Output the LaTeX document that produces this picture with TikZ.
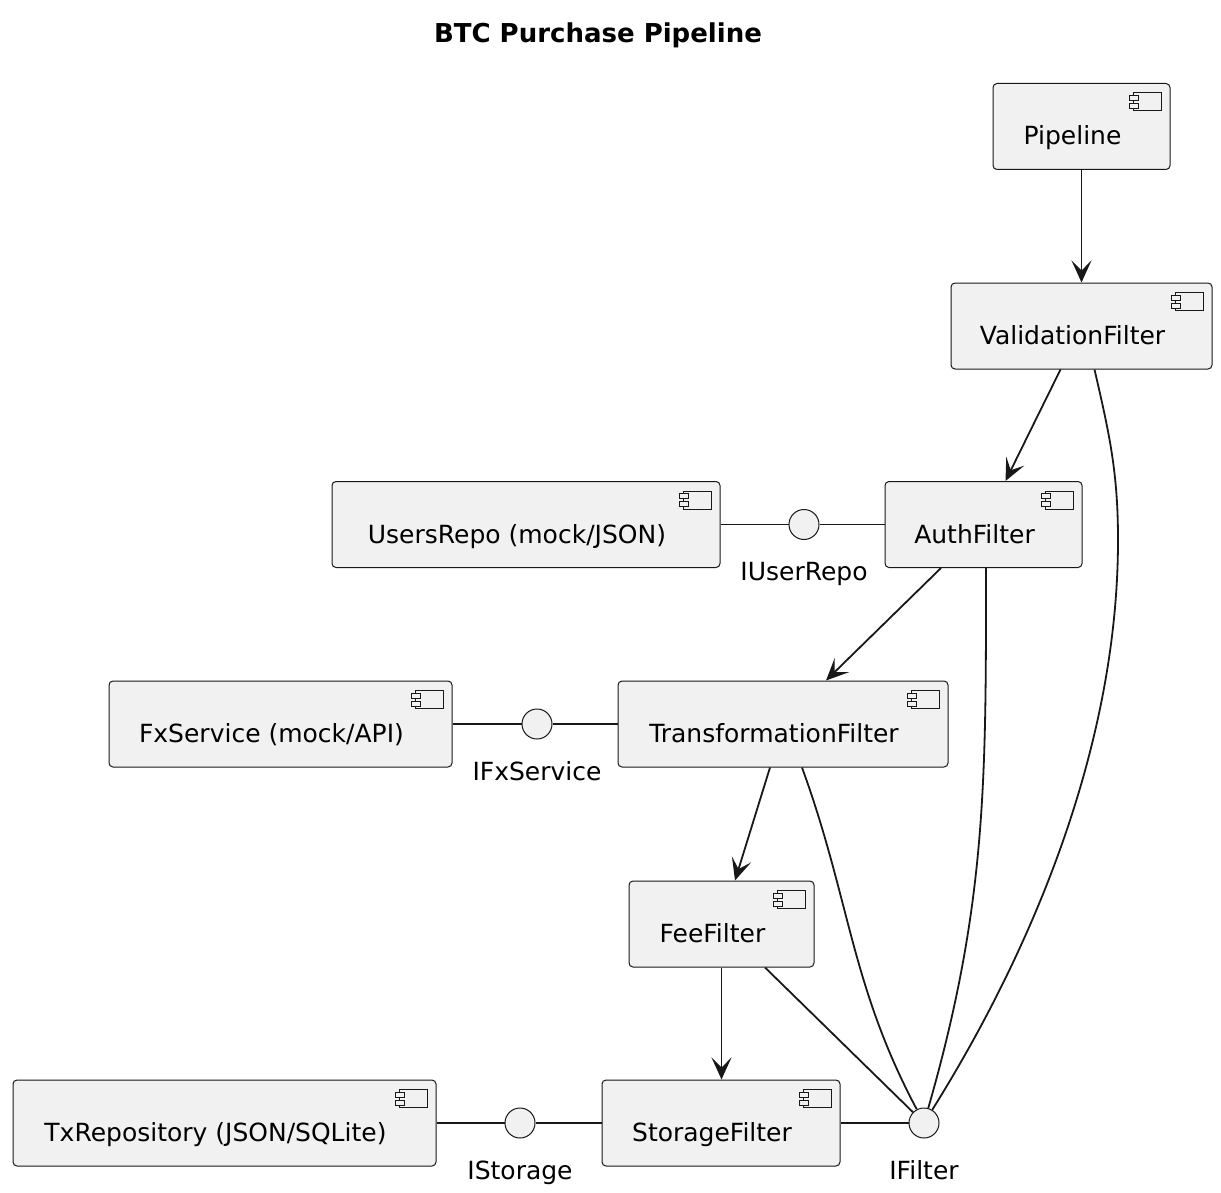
\documentclass[tikz,border=0pt]{standalone}
\usepackage{fontspec}
\setmainfont{DejaVu Sans}
\usetikzlibrary{arrows.meta}
\usetikzlibrary{calc}
\usetikzlibrary{positioning}

\definecolor{compfill}{HTML}{F1F1F1}
\definecolor{compline}{HTML}{181818}

\tikzset{
    comp/.style={draw=compline, line width=1pt, fill=compfill, rounded corners=4pt,
        minimum height=86pt, text height=37pt, text depth=0pt, inner sep=0pt,
        font=\fontsize{25}{29}\selectfont},
    iface/.style={circle, draw=compline, line width=1pt, fill=compfill, minimum size=30pt, inner sep=0pt},
    ifacelabel/.style={anchor=base, inner sep=0pt, font=\fontsize{25}{29}\selectfont},
    flow/.style={line width=1.8pt, draw=compline, -{Stealth[length=22pt,width=20pt,inset=10pt]}},
    link/.style={line width=1.8pt, draw=compline},
}

% small component glyph in the top right corner of a box
\newcommand{\compicon}[1]{
    \draw[compline, line width=1pt, fill=compfill] ($(#1.north east)+(-37,10)$) rectangle ($(#1.north east)+(-9,28)$);
    \draw[compline, line width=1pt, fill=compfill] ($(#1.north east)+(-41,12.5)$) rectangle ($(#1.north east)+(-32,17.5)$);
    \draw[compline, line width=1pt, fill=compfill] ($(#1.north east)+(-41,20.5)$) rectangle ($(#1.north east)+(-32,25.5)$);
}

\begin{document}
\begin{tikzpicture}[x=1pt, y=-1pt]
    \useasboundingbox (0,0) rectangle (1221,1193);

    \node[anchor=base, font=\fontsize{26}{30}\selectfont\bfseries] (title) at (598,43) {BTC Purchase Pipeline};

    % components
    \foreach \n/\x/\y/\w/\t in {pipeline/1081.5/126.5/177/Pipeline,
            vf/1081.5/326/261/ValidationFilter,
            auth/983.5/524.5/197/AuthFilter,
            users/526/524.5/388/{UsersRepo (mock/JSON)},
            trans/783/724/330/TransformationFilter,
            fx/280.5/724/343/{FxService (mock/API)},
            fee/721.5/924/185/FeeFilter,
            storage/721/1123/238/StorageFilter,
            txrepo/224.5/1123/423/{TxRepository (JSON/SQLite)}} {
        \node[comp, minimum width=\w pt] (\n) at (\x,\y) {\t\hspace*{18pt}};
        \compicon{\n}
    }

    % interfaces
    \foreach \n/\x/\y/\t in {iuserrepo/804/524.5/IUserRepo, ifxservice/537/724/IFxService,
            istorage/520/1123/IStorage, ifilter/924/1123/IFilter} {
        \node[iface] (\n) at (\x,\y) {};
        \node[ifacelabel] (\n-l) at ([yshift=-56pt]\n.center) {\t};
    }

    % pipeline flow
    \draw[flow] (pipeline) -- (vf);
    \draw[flow] ([xshift=-21pt]vf.south) -- ([xshift=22pt]auth.north);
    \draw[flow] ([xshift=-42.5pt]auth.south) -- ([xshift=43pt]trans.north);
    \draw[flow] ([xshift=-13pt]trans.south) -- ([xshift=13.5pt]fee.north);
    \draw[flow] (fee.south) -- (fee.south |- storage.north);

    % provided / required interfaces
    \draw[link] (users.east) -- (iuserrepo);
    \draw[link] (iuserrepo) -- (auth.west);
    \draw[link] (fx.east) -- (ifxservice);
    \draw[link] (ifxservice) -- (trans.west);
    \draw[link] (txrepo.east) -- (istorage);
    \draw[link] (istorage) -- (storage.west);

    % every filter realises IFilter
    \coordinate (vfbend) at (1118,540);
    \draw[link] ([xshift=13pt]vf.south) to[out=-77, in=90] (vfbend) to[out=-90, in=58, looseness=0.85] (ifilter);
    \draw[link] ([xshift=2.5pt]auth.south) to[out=-90, in=74] (ifilter);
    \draw[link] ([xshift=19pt]trans.south) to[out=-70, in=118] (ifilter);
    \draw[link] ([xshift=43.5pt]fee.south) -- (ifilter);
    \draw[link] (storage.east) -- (ifilter);
\end{tikzpicture}
\end{document}
